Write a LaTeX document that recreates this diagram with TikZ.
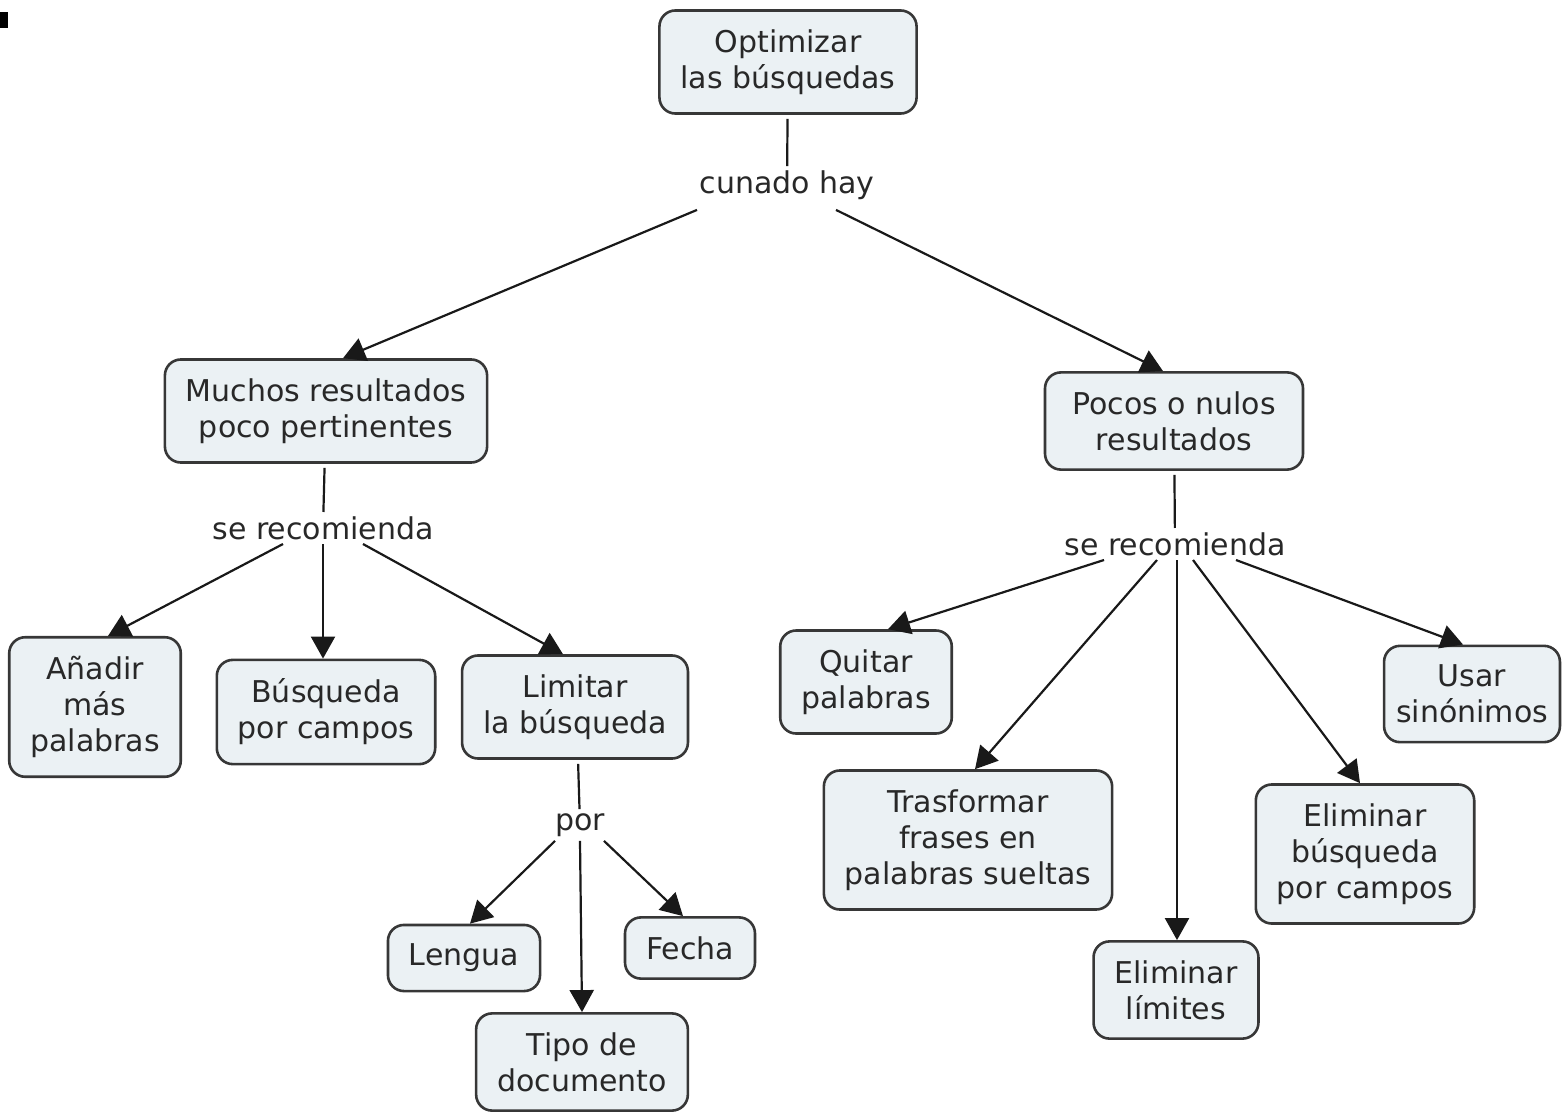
\documentclass[tikz,border=0pt]{standalone}
\usepackage{fontspec}
\setmainfont{DejaVu Sans}
\usepackage{xcolor}
\usetikzlibrary{arrows.meta}

\definecolor{boxfill}{RGB}{235,241,244}
\definecolor{boxline}{RGB}{55,55,55}
\definecolor{linkline}{RGB}{25,25,25}
\definecolor{txt}{RGB}{40,40,40}

\begin{document}
\begin{tikzpicture}[
    x=0.5pt, y=-0.5pt,
    concept/.style={rectangle, rounded corners=8pt, draw=boxline, line width=1.3pt, fill=boxfill,
        align=center, text=txt, inner xsep=10.5pt, inner ysep=9.5pt, font=\fontsize{15}{18}\selectfont},
    linker/.style={align=center, text=txt, inner sep=2pt, font=\fontsize{15}{18}\selectfont},
    line/.style={draw=linkline, line width=1.1pt},
    arrow/.style={line, -{Triangle[length=11pt,width=12pt]}}
]
\useasboundingbox (0,0) rectangle (1563,1113);
\fill (0,12) rectangle (8,28);

% Concepts
\node[concept] (optim) at (788,62) {Optimizar\\las búsquedas};
\node[concept] (muchos) at (326,411) {Muchos resultados\\poco pertinentes};
\node[concept, minimum width=129pt] (pocos) at (1174,421) {Pocos o nulos\\resultados};

\node[concept] (anadir) at (95,707) {Añadir\\más\\palabras};
\node[concept] (campos) at (326,712) {Búsqueda\\por campos};
\node[concept] (limitar) at (575,707) {Limitar\\la búsqueda};

\node[concept] (lengua) at (464,958) {Lengua};
\node[concept] (fecha) at (690,948) {Fecha};
\node[concept] (tipo) at (582,1062) {Tipo de\\documento};

\node[concept] (quitar) at (866,682) {Quitar\\palabras};
\node[concept, inner xsep=6pt] (usar) at (1472,694) {Usar\\sinónimos};
\node[concept] (trasf) at (968,840) {Trasformar\\frases en\\palabras sueltas};
\node[concept] (elimlim) at (1176,990) {Eliminar\\límites};
\node[concept] (elimcamp) at (1365,854) {Eliminar\\búsqueda\\por campos};

% Linking phrases
\node[linker] (cuando) at (787,185) {cunado hay};
\node[linker] (recizq) at (323,528) {se recomienda};
\node[linker] (por) at (580,825) {por};
\node[linker] (recder) at (1175,544) {se recomienda};

% Connectors
\draw[line, shorten <=2pt] (optim) -- (cuando);
\draw[arrow] ([xshift=-45pt,yshift=-3pt]cuando.south) -- ([xshift=8.5pt]muchos.north);
\draw[arrow] ([xshift=24.5pt,yshift=-3pt]cuando.south) -- ([xshift=-5.5pt]pocos.north);

\draw[line, shorten <=2pt] (muchos) -- (recizq);
\draw[arrow] ([xshift=-20pt]recizq.south) -- ([xshift=6.5pt]anadir.north);
\draw[arrow] (recizq.south) -- ([xshift=-1.5pt]campos.north);
\draw[arrow] ([xshift=20pt]recizq.south) -- ([xshift=-6pt]limitar.north);

\draw[line, shorten <=2pt] ([xshift=1.5pt]limitar.south) -- (por);
\draw[arrow] ([xshift=-12.5pt]por.south) -- ([xshift=3pt]lengua.north);
\draw[arrow] (por.south) -- (tipo.north);
\draw[arrow] ([xshift=12pt]por.south) -- ([xshift=-3.5pt]fecha.north);

\draw[line, shorten <=2pt] (pocos) -- (recder);
\draw[arrow] ([xshift=-35.5pt]recder.south) -- ([xshift=11pt]quitar.north);
\draw[arrow] ([xshift=-9pt]recder.south) -- ([xshift=3.5pt]trasf.north);
\draw[arrow] ([xshift=1pt]recder.south) -- ([xshift=0.5pt]elimlim.north);
\draw[arrow] ([xshift=9pt]recder.south) -- ([xshift=-2.5pt]elimcamp.north);
\draw[arrow] ([xshift=30.5pt]recder.south) -- ([xshift=-4.5pt]usar.north);

\end{tikzpicture}
\end{document}
